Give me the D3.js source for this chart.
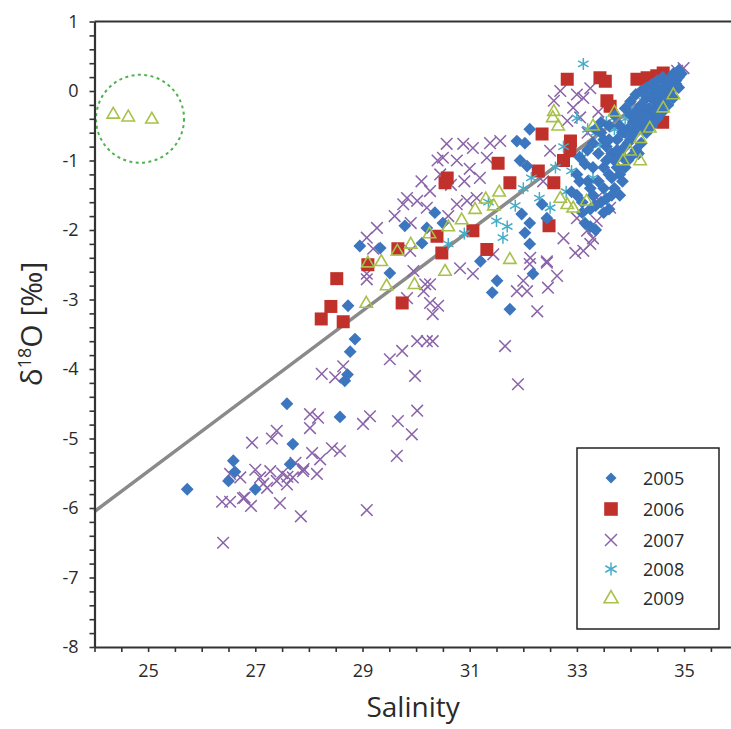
<!DOCTYPE html>
<html><head><meta charset="utf-8">
<script src="https://cdn.jsdelivr.net/npm/d3@7"></script>
<style>
body{margin:0;background:#fff;}
svg{display:block;font-family:"Open Sans","Noto Sans",sans-serif;}
</style></head>
<body><svg id="c" width="731" height="729"></svg>
<script>
// ---- data: [salinity, d18O] ----
const years = ["2005","2006","2007","2008","2009"];
const d2005 = [[25.73,-5.73],[26.59,-5.32],[26.5,-5.61],[26.62,-5.48],[27.0,-5.73],[27.7,-5.08],[27.65,-5.37],[27.59,-4.5],[28.58,-4.69],[28.67,-4.17],[28.72,-4.08],[28.77,-3.75],[28.86,-3.57],[28.73,-3.09],
[28.95,-2.23],[29.33,-2.26],[29.51,-2.62],[29.79,-1.94],[30.2,-1.97],[30.11,-2.19],[30.5,-1.9],[30.35,-1.75],[31.2,-2.45],[31.51,-2.73],[31.42,-2.9],[31.75,-3.14],[32.18,-2.63],
[31.88,-0.72],[32.03,-0.75],[32.12,-0.55],[31.94,-1.0],[32.07,-1.08],[32.35,-1.63],[31.97,-1.77],[32.12,-1.9],[32.03,-2.04],[32.12,-2.2],[32.44,-1.83],
[32.9,-1.45],[33.0,-1.2],[33.05,-0.95],[33.1,-1.75],[33.1,-1.6],[33.15,-1.9],[33.2,-1.3],[33.25,-1.7],[33.3,-1.1],[33.3,-1.5],[33.35,-2.0],[33.4,-1.3],[33.4,-0.9],[33.45,-1.6],[33.5,-1.1],[33.5,-1.4],[33.55,-0.8],[33.6,-1.2],[33.6,-1.7],[33.65,-0.9],[33.7,-1.0],[33.7,-1.4],[33.75,-0.7],[33.8,-0.9],[33.8,-1.2],[33.85,-0.6],[33.9,-0.8],[33.9,-1.1],[33.95,-0.55],[34.0,-0.7],[34.0,-0.95],[34.05,-0.45],[34.1,-0.6],[34.1,-0.85],[34.15,-0.4],[34.2,-0.5],[34.2,-0.75],[34.25,-0.3],[34.3,-0.45],[34.3,-0.6],[34.35,-0.25],[34.4,-0.35],[34.4,-0.5],[34.45,-0.15],[34.5,-0.25],[34.5,-0.4],[34.55,-0.1],[34.6,-0.15],[34.6,-0.3],[34.65,0.0],[34.7,-0.05],[34.7,-0.2],[34.75,0.1],[34.8,0.05],[34.8,-0.1],[34.85,0.15],[34.9,0.2],[34.9,0.05],[34.95,0.25],
[33.45,-0.6],[33.55,-1.55],[33.65,-1.25],[33.75,-1.1],[33.85,-0.95],[33.95,-0.75],[34.05,-0.6],[34.15,-0.55],[34.25,-0.45],[34.35,-0.35],[34.45,-0.3],[34.55,-0.2],[34.65,-0.1],[34.75,0.0],[34.85,0.1],
[33.0,-1.5],[33.05,-1.3],[33.15,-1.05],[33.2,-0.85],[33.25,-1.4],[33.3,-0.75],[33.35,-1.65],[33.45,-0.45],[33.5,-0.7],[33.5,-1.75],[33.55,-1.0],[33.6,-0.5],[33.65,-1.5],[33.7,-0.35],[33.75,-0.85],[33.8,-0.5],[33.85,-1.3],[33.9,-0.25],[33.95,-1.0],[34.0,-0.35],[34.0,-0.15],[34.1,-0.3],[34.1,-0.05],[34.2,-0.2],[34.2,0.0],[34.3,-0.1],[34.3,0.05],[34.4,-0.05],[34.4,0.1],[34.5,0.0],[34.5,0.15],[34.6,0.05],[34.6,0.2],[34.7,0.15],[34.8,0.25],[34.9,0.3],[33.35,-0.55],[33.6,-0.7],[33.9,-0.6],[34.15,-0.9],[33.8,-1.5],[33.25,-1.95]];
const d2006 = [[28.52,-2.7],[28.41,-3.1],[28.23,-3.28],[28.64,-3.32],[29.1,-2.5],[29.74,-3.05],[29.66,-2.27],[30.39,-2.09],[30.48,-2.33],[31.06,-2.01],[31.32,-2.28],[30.54,-1.32],[30.58,-1.25],[31.53,-1.04],[31.75,-1.32],[32.48,-1.94],[32.35,-0.62],[32.28,-1.15],[32.57,-1.32],[32.82,0.17],[33.43,0.19],[33.53,0.14],[33.56,-0.14],[33.62,-0.22],[34.12,0.17],[34.31,0.19],[34.49,0.22],[34.61,0.26],[32.88,-0.72],[32.75,-1.0],[32.87,-0.86],[34.3,-0.3],[34.6,-0.45]];
const d2007 = [[26.4,-6.5],[26.38,-5.91],[26.53,-5.91],[26.8,-5.85],[26.92,-5.97],[27.46,-5.93],[27.85,-6.12],[26.94,-5.06],[27.31,-5.0],[27.4,-4.89],[26.53,-5.51],[26.72,-5.56],[27.09,-5.56],[27.28,-5.47],[27.4,-5.61],[27.59,-5.66],[27.7,-5.56],[27.89,-5.47],[28.06,-5.21],[28.15,-5.51],[28.02,-4.85],[27.22,-5.71],[26.77,-5.86],[29.08,-6.03],[29.64,-5.25],[29.92,-4.94],[28.21,-5.3],[28.43,-5.14],[28.58,-5.18],[27.9,-5.44],[27.5,-5.5],[27.0,-5.45],[27.15,-5.65],[27.6,-5.55],[27.75,-5.35],
[28.02,-4.65],[28.17,-4.7],[29.01,-4.79],[29.14,-4.68],[29.66,-4.75],[30.02,-4.6],[28.24,-4.07],[28.49,-4.12],[28.64,-3.96],[29.51,-3.86],[29.74,-3.74],[29.98,-4.1],[30.02,-3.6],[30.2,-3.6],[30.31,-3.6],[31.66,-3.67],[31.9,-4.22],[29.08,-2.71],[29.83,-2.98],[30.26,-3.05],[30.31,-3.21],[30.41,-3.09],[30.17,-2.78],[32.12,-2.49],[32.44,-2.47],[32.63,-2.66],[32.07,-2.88],[32.26,-3.17],[32.46,-2.83],[32.97,-2.33],
[30.57,-0.76],[30.88,-0.76],[31.06,-0.82],[31.38,-0.75],[30.76,-1.0],[31.0,-1.12],[31.19,-1.25],[30.45,-1.2],[30.26,-1.44],[30.02,-1.58],[29.83,-1.54],[30.2,-1.68],[30.76,-1.63],[30.95,-1.58],[31.13,-1.54],[29.27,-1.97],[29.08,-2.11],[29.2,-2.27],[29.08,-2.63],[29.89,-2.3],[29.95,-2.59],[30.14,-2.88],[30.26,-2.78],[30.82,-2.55],[31.06,-2.63],[31.44,-2.35],[31.88,-2.88],[32.0,-2.73],[30.5,-0.96],[29.76,-1.63],[31.57,-0.72],[31.32,-0.96],[30.65,-1.35],[30.4,-1.0],[30.9,-1.3],[30.1,-1.3],[29.6,-1.8],[29.9,-1.9],[30.6,-1.8],
[32.93,-0.24],[33.12,-0.1],[33.25,0.04],[33.0,-0.05],[33.06,-0.38],[32.57,-0.14],[32.69,0.0],[32.82,-0.43],[34.87,0.29],[34.99,0.33],[34.74,0.24],[32.37,-1.3],[32.5,-0.86],[33.0,-1.83],[33.19,-2.01],[33.3,-2.12],[33.12,-2.3],[33.25,-2.2],[32.75,-2.12],[32.13,-2.4],[32.44,-2.45],[33.37,-1.87],[33.37,-1.54],[33.62,-1.68],[33.2,-0.6],[33.4,-0.3],[34.5,0.1],[34.1,-0.2]];
const d2008 = [[31.5,-1.87],[31.62,-2.11],[32.3,-1.54],[32.5,-1.68],[33.0,-0.39],[33.12,0.39],[33.43,-0.77],[31.7,-1.95],[31.85,-1.65],[32.0,-1.4],[32.15,-1.25],[32.6,-1.1],[32.75,-0.8],[32.9,-1.15],[33.1,-0.95],[33.2,-0.55],[33.3,-1.25],[33.35,-0.6],[33.55,-0.45],[33.7,-0.55],[33.9,-0.4],[34.05,-0.25],[34.25,-0.15],[34.45,0.0],[34.65,0.1],[34.85,0.2],[32.8,-1.45],[31.35,-1.6],[30.9,-2.05],[30.6,-2.2]];
const d2009 = [[24.35,-0.33],[24.63,-0.37],[25.07,-0.4],
[29.07,-3.05],[29.1,-2.47],[29.45,-2.8],[29.97,-2.78],[30.54,-2.59],[31.75,-2.42],[29.35,-2.45],[29.65,-2.3],[29.9,-2.2],[30.25,-2.05],[30.6,-1.95],[30.85,-1.85],[31.1,-1.7],[31.3,-1.55],[31.45,-1.65],[31.55,-1.45],[32.57,-0.29],[32.55,-0.38],[32.65,-0.5],[33.86,-1.0],[33.99,-0.86],[34.18,-0.68],[34.36,-0.53],[34.61,-0.24],[34.8,-0.05],[32.69,-1.54],[32.82,-1.63],[32.93,-1.68],[33.18,-1.58],[34.18,-1.0],[33.7,-0.3],[33.3,-0.5]];
// regression line end points and the dashed "outlier" circle (data coords)
const fitLine = [[24,-6.05],[35,0.3]];
const circleCenter = [24.85,-0.4];
const xTicks = d3.range(48,73).map(i=>i/2);       // 24 .. 36 step 0.5
const xLabels = [25,27,29,31,33,35];
const yTicks = d3.range(-40,6).map(i=>i/5);       // -8 .. 1 step 0.2
const yLabels = [-8,-7,-6,-5,-4,-3,-2,-1,0,1];

const colors = {"2005":"#3b76bf","2006":"#c1312c","2007":"#8a63a9","2008":"#47adc7","2009":"#a7c14b"};

const svg = d3.select("#c");
const x = d3.scaleLinear().domain([24,36]).range([94.5,737.7]);
const y = d3.scaleLinear().domain([-8,1]).range([647,21.5]);

// symbol path generators (local coords)
function diamondPath(s){return `M0,${-s}L${s},0L0,${s}L${-s},0Z`;}
function squarePath(s){return `M${-s},${-s}H${s}V${s}H${-s}Z`;}
function xPath(s){return `M${-s},${-s}L${s},${s}M${-s},${s}L${s},${-s}`;}
function starPath(s){const a=s*0.87,b=s*0.5;return `M0,${-s}V${s}M${-a},${-b}L${a},${b}M${-a},${b}L${a},${-b}`;}
function triPath(s){return `M0,${-s*1.05}L${s},${s*0.68}L${-s},${s*0.68}Z`;}

const styles = {
  "2005":{path:diamondPath(6.4),fill:colors["2005"],stroke:"none",sw:0},
  "2006":{path:squarePath(6.5),fill:colors["2006"],stroke:"none",sw:0},
  "2007":{path:xPath(5.8),fill:"none",stroke:colors["2007"],sw:1.5},
  "2008":{path:starPath(6),fill:"none",stroke:colors["2008"],sw:1.5},
  "2009":{path:triPath(6.2),fill:"none",stroke:colors["2009"],sw:1.6}
};
const legendStyles = {
  "2005":{path:diamondPath(5.5)},"2006":{path:squarePath(6.8)},"2007":{path:xPath(6)},
  "2008":{path:starPath(6.5)},"2009":{path:triPath(7)}
};

const plot = svg.append("g");
plot.append("clipPath").attr("id","clip").append("rect")
  .attr("x",94.5).attr("y",21.5).attr("width",731-94.5).attr("height",647-21.5);

// dashed circle
plot.append("circle").attr("cx",x(circleCenter[0])).attr("cy",y(circleCenter[1])).attr("r",44)
  .attr("fill","none").attr("stroke","#4fb34f").attr("stroke-width",2).attr("stroke-dasharray","3,3.4");

// regression line
plot.append("line").attr("x1",x(fitLine[0][0])).attr("y1",y(fitLine[0][1]))
  .attr("x2",x(fitLine[1][0])).attr("y2",y(fitLine[1][1]))
  .attr("stroke","#8a8a8a").attr("stroke-width",3.5);

const order = [["2007",d2007],["2006",d2006],["2008",d2008],["2005",d2005],["2009",d2009]];
order.forEach(([yr,data])=>{
  const st = styles[yr];
  plot.append("g").attr("clip-path","url(#clip)").selectAll("path").data(data).join("path")
    .attr("transform",d=>`translate(${x(d[0])},${y(d[1])})`)
    .attr("d",st.path).attr("fill",st.fill).attr("stroke",st.stroke).attr("stroke-width",st.sw);
});

// axes
const axisColor = "#333";
const xAxis = d3.axisBottom(x).tickValues(xTicks).tickSize(5).tickSizeOuter(0).tickPadding(12)
  .tickFormat(d=> xLabels.includes(d) ? String(d) : "");
const gx = svg.append("g").attr("transform","translate(0,647)").call(xAxis);
const yAxis = d3.axisLeft(y).tickValues(yTicks).tickSize(5).tickSizeOuter(0).tickPadding(11)
  .tickFormat(d=>{const r=Math.round(d);return Math.abs(d-r)<1e-6 && yLabels.includes(r) ? String(r) : "";});
const gy = svg.append("g").attr("transform","translate(94.5,0)").call(yAxis);
[gx,gy].forEach(g=>{
  g.select(".domain").attr("stroke",axisColor).attr("stroke-width",2.2);
  g.selectAll(".tick line").attr("stroke",axisColor).attr("stroke-width",1.6);
  g.selectAll(".tick text").attr("fill","#2a2a2a").style("font-size","18px").style("font-family","'Open Sans',sans-serif");
});
// top frame line
svg.append("line").attr("x1",94.5).attr("x2",731).attr("y1",y(1)).attr("y2",y(1))
  .attr("stroke",axisColor).attr("stroke-width",2.2);

// axis titles
svg.append("text").attr("x",x(30)-3).attr("y",717).attr("text-anchor","middle")
  .style("font-size","28px").attr("fill","#2a2a2a").text("Salinity");
const yl = svg.append("text").attr("transform","translate(42,324) rotate(-90)").attr("text-anchor","middle")
  .style("font-size","30px").attr("fill","#2a2a2a");
yl.append("tspan").text("δ");
yl.append("tspan").attr("dy",-11).style("font-size","18px").text("18");
yl.append("tspan").attr("dy",11).text("O [‰]");

// legend
const lg = svg.append("g");
lg.append("rect").attr("x",577).attr("y",448).attr("width",142).attr("height",181)
  .attr("fill","#fff").attr("stroke","#222").attr("stroke-width",1.5);
const rowY = [478,509,540,569,598];
years.forEach((yr,i)=>{
  const st = styles[yr];
  lg.append("path").attr("transform",`translate(611,${rowY[i]})`).attr("d",legendStyles[yr].path)
    .attr("fill",st.fill).attr("stroke",st.stroke).attr("stroke-width",st.sw);
  lg.append("text").attr("x",643).attr("y",rowY[i]+6.5).style("font-size","18px").attr("fill","#2a2a2a").text(yr);
});
</script></body></html>
